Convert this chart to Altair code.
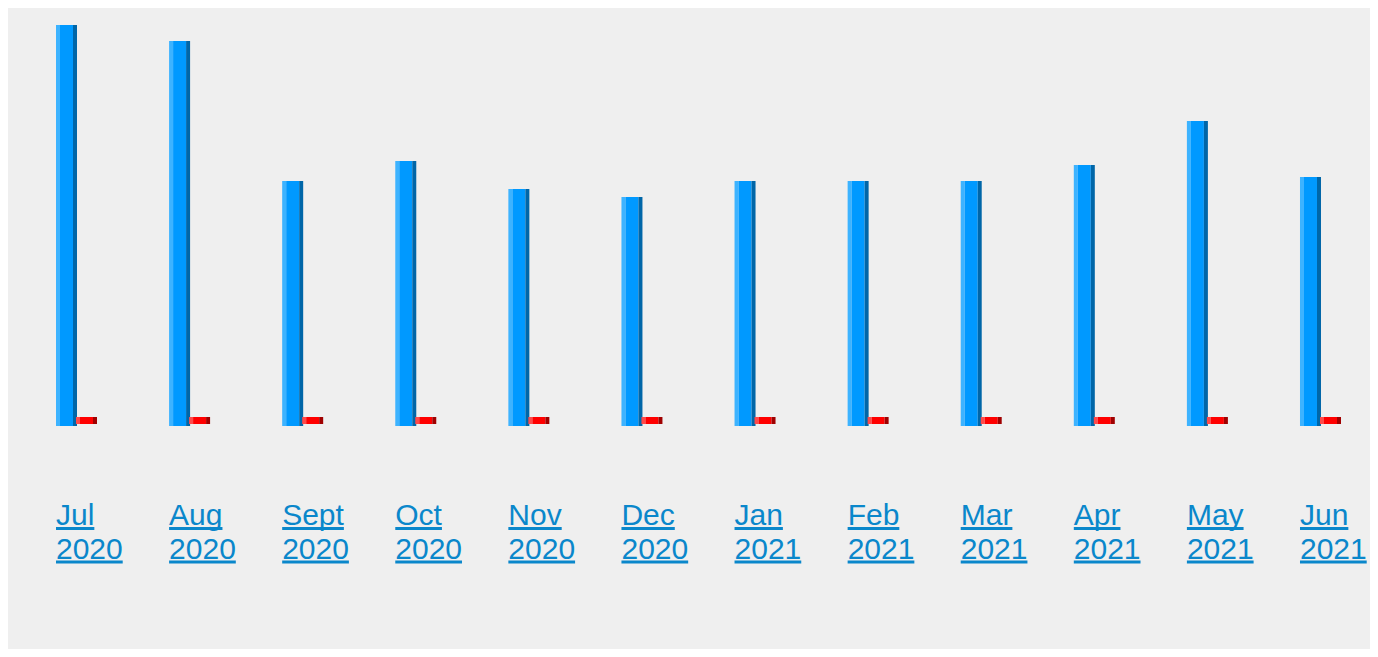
import altair as alt
import pandas as pd

# ---- data ----
months = ["Jul", "Aug", "Sept", "Oct", "Nov", "Dec", "Jan", "Feb", "Mar", "Apr", "May", "Jun"]
years = ["2020", "2020", "2020", "2020", "2020", "2020", "2021", "2021", "2021", "2021", "2021", "2021"]
blue_values = [100, 96, 61, 66, 59, 57, 61, 61, 61, 65, 76, 62]
red_values = [2, 2, 2, 2, 2, 2, 2, 2, 2, 2, 2, 2]

# ---- layout constants ----
STEP = 113.09          # px per month slot
PLOT_W = 1314
PLOT_H = 418
PX_PER_UNIT = 4.0
FONT_SIZE = 30

# Arial / Liberation Sans advance widths (per 1000 em) for underline lengths
ADV = {"J": 500, "u": 556, "l": 222, "A": 667, "g": 556, "S": 667, "e": 556, "p": 556,
       "t": 278, "O": 778, "c": 500, "N": 722, "o": 556, "v": 500, "D": 722, "F": 611,
       "b": 556, "M": 833, "a": 556, "r": 333, "y": 500, "n": 556,
       "0": 556, "1": 556, "2": 556}


def text_w(s):
    return sum(ADV.get(ch, 556) for ch in s) / 1000.0 * FONT_SIZE


df = pd.DataFrame({
    "idx": list(range(len(months))),
    "month": months,
    "year": years,
    "blue": blue_values,
    "red": red_values,
})
df["label"] = df["month"] + "\n" + df["year"]
df["u1end"] = df["idx"] + df["month"].map(text_w) / STEP
df["u2end"] = df["idx"] + df["year"].map(text_w) / STEP

LABEL_COLOR = "#0a87cb"

xs = alt.Scale(domain=[0, PLOT_W / STEP], nice=False, zero=False, padding=0)
ys = alt.Scale(domain=[0, PLOT_H / PX_PER_UNIT], nice=False, padding=0)

base = alt.Chart(df).transform_calculate(zero="0")


def bar_part(field, color, width, offset, yoff, y2off=0):
    return base.mark_bar(
        color=color, width=width, xOffset=offset, yOffset=yoff, y2Offset=y2off,
        orient="vertical", stroke=None
    ).encode(
        x=alt.X("idx:Q", scale=xs, axis=None),
        y=alt.Y(f"{field}:Q", scale=ys, axis=None),
        y2=alt.Y2("zero:Q"),
    )


blue_light = bar_part("blue", "#3db3ff", 4, 2, -1)
blue_main = bar_part("blue", "#0099ff", 13, 10.5, -1)
blue_dark = bar_part("blue", "#0066a8", 4, 19, -1)

red_light = bar_part("red", "#ff4a4a", 4, 22, -1, -2)
red_main = bar_part("red", "#ff0000", 13, 30.5, -1, -2)
red_dark = bar_part("red", "#a00000", 4, 39, -1, -2)

labels = base.mark_text(
    align="left", baseline="alphabetic", dy=99, fontSize=FONT_SIZE,
    font="Liberation Sans", color=LABEL_COLOR, lineBreak="\n", lineHeight=33.5
).encode(
    x=alt.X("idx:Q", scale=xs, axis=None),
    y=alt.Y("zero:Q", scale=ys, axis=None),
    text="label:N",
)

ul1 = base.mark_rule(strokeWidth=3, color=LABEL_COLOR, yOffset=102.5, strokeCap="butt").encode(
    x=alt.X("idx:Q", scale=xs, axis=None),
    x2="u1end:Q",
    y=alt.Y("zero:Q", scale=ys, axis=None),
)
ul2 = base.mark_rule(strokeWidth=3, color=LABEL_COLOR, yOffset=136, strokeCap="butt").encode(
    x=alt.X("idx:Q", scale=xs, axis=None),
    x2="u2end:Q",
    y=alt.Y("zero:Q", scale=ys, axis=None),
)

chart = alt.layer(
    blue_light, blue_main, blue_dark, red_light, red_main, red_dark, labels, ul1, ul2
).properties(
    width=PLOT_W,
    height=PLOT_H,
    background="#efefef",
    padding={"left": 48, "top": 0, "right": 0, "bottom": 223},
    autosize=alt.AutoSizeParams(type="none"),
).configure_view(stroke=None)

chart.save("out.html", embed_options={"renderer": "svg", "actions": False})
